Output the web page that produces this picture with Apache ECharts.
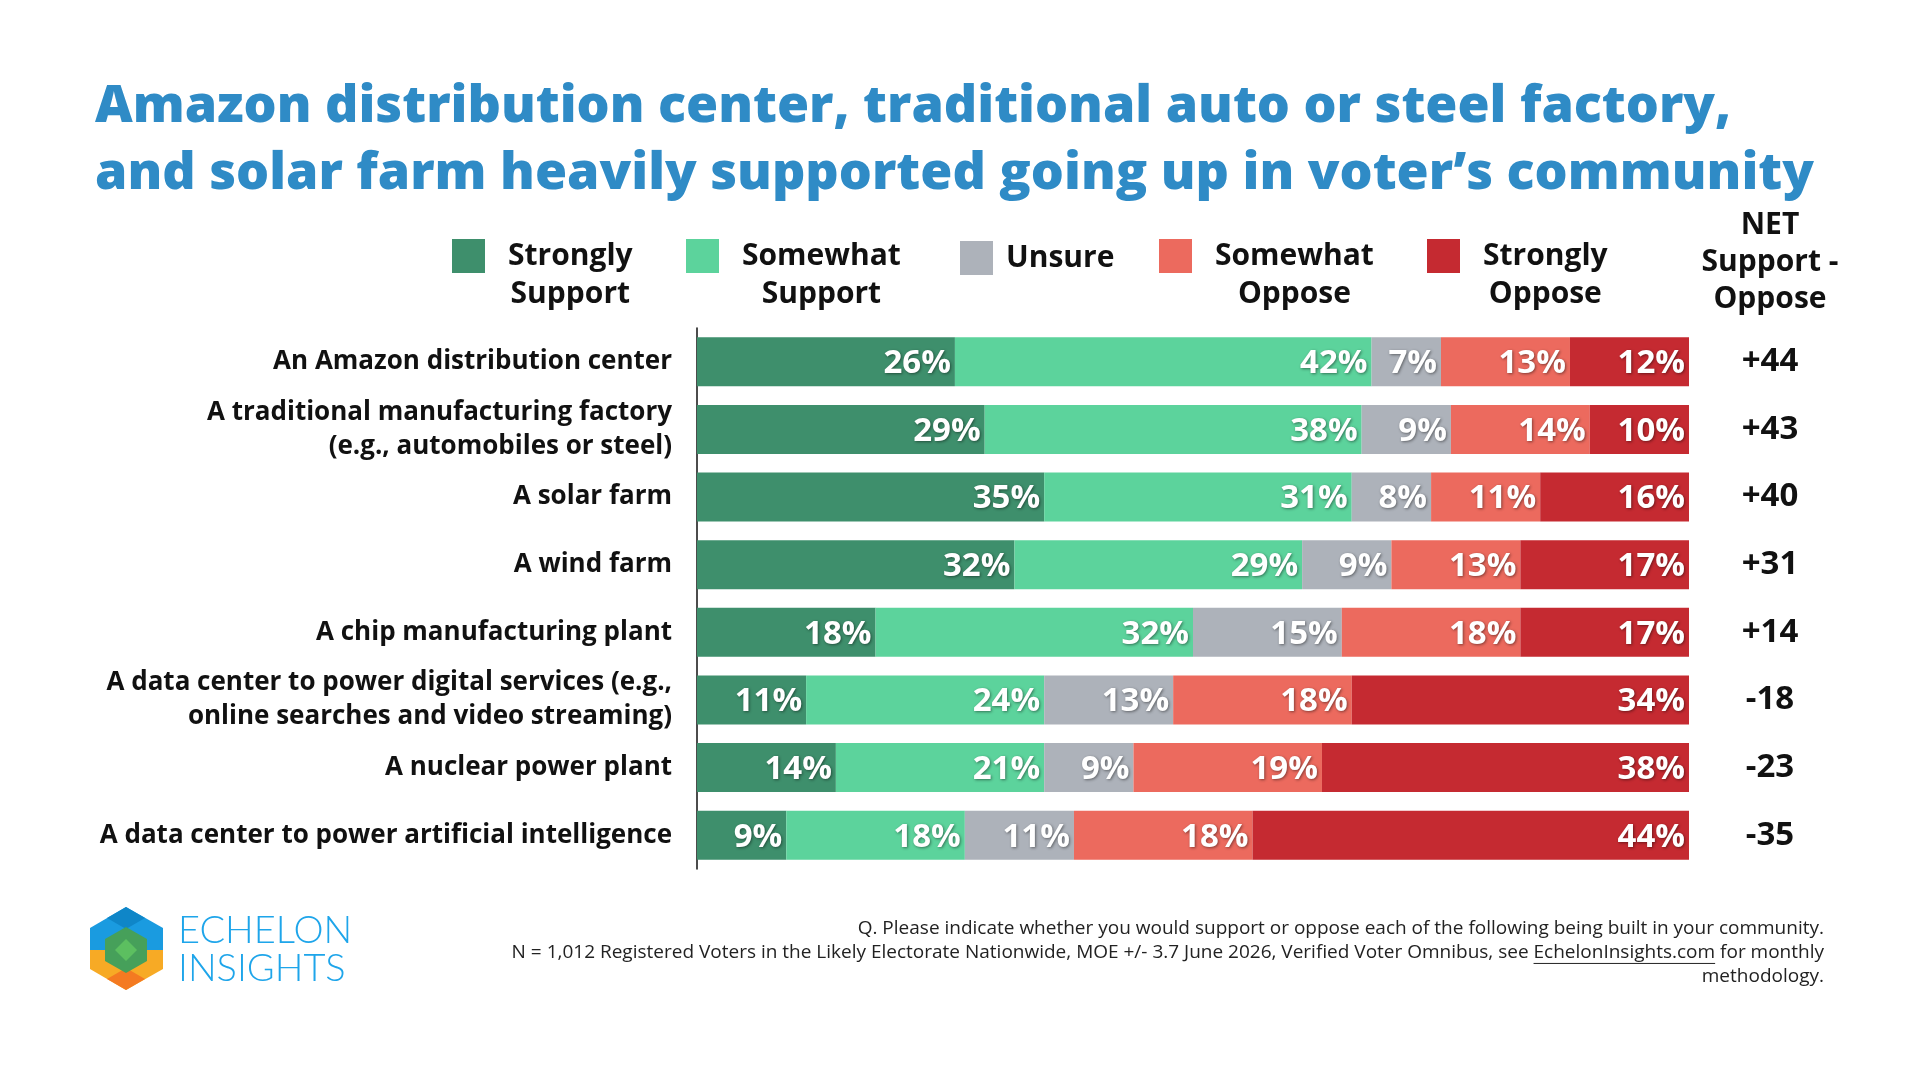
<!DOCTYPE html>
<html>
<head>
<meta charset="utf-8">
<title>Community support for new facilities</title>
<script src="https://cdn.jsdelivr.net/npm/echarts@6/dist/echarts.min.js"></script>
<style>
  html, body { margin: 0; padding: 0; background: #fff; }
  #chart { width: 1920px; height: 1080px; }
</style>
</head>
<body>
<div id="chart"></div>
<script>
// data
var categories = [
  'An Amazon distribution center',
  'A traditional manufacturing factory\n(e.g., automobiles or steel)',
  'A solar farm',
  'A wind farm',
  'A chip manufacturing plant',
  'A data center to power digital services (e.g.,\nonline searches and video streaming)',
  'A nuclear power plant',
  'A data center to power artificial intelligence'
];
var strongSupport = [26, 29, 35, 32, 18, 11, 14, 9];
var someSupport = [42, 38, 31, 29, 32, 24, 21, 18];
var unsure = [7, 9, 8, 9, 15, 13, 9, 11];
var someOppose = [13, 14, 11, 13, 18, 18, 19, 18];
var strongOppose = [12, 10, 16, 17, 17, 34, 38, 44];
var netLabels = ['+44', '+43', '+40', '+31', '+14', '-18', '-23', '-35'];

var seriesNames = ['Strongly\nSupport', 'Somewhat\nSupport', 'Unsure', 'Somewhat\nOppose', 'Strongly\nOppose'];
var seriesData = [strongSupport, someSupport, unsure, someOppose, strongOppose];
var colors = ['#3e8f6c', '#5cd39c', '#adb2ba', '#ec6a5e', '#c52a31'];
var legendLeft = [452, 686, 960, 1159, 1427];

var font = '"Open Sans", Lato, sans-serif';

var noteLine1 = 'Q. Please indicate whether you would support or oppose each of the following being built in your community.';
var noteLine2a = 'N = 1,012 Registered Voters in the Likely Electorate Nationwide, MOE +/- 3.7 June 2026, Verified Voter Omnibus, see ';
var noteLink = 'EchelonInsights.com';
var noteLine2b = ' for monthly';
var noteLine3 = 'methodology.';
var noteSize = 19;
var noteRight = 1824;
var noteTop = 917;
var noteLineHeight = 24;

var myChart = echarts.init(document.getElementById('chart'));

var series = seriesData.map(function (vals, i) {
  return {
    name: seriesNames[i],
    type: 'bar',
    stack: 'all',
    barWidth: 49,
    data: vals,
    itemStyle: { color: colors[i] },
    label: {
      show: true,
      position: 'insideRight',
      distance: 4,
      offset: [0, 2],
      formatter: '{c}%',
      color: '#fff',
      fontFamily: font,
      fontWeight: 'bold',
      fontSize: 33,
      textShadowColor: 'rgba(0,0,0,0.45)',
      textShadowBlur: 3,
      textShadowOffsetX: 1,
      textShadowOffsetY: 1
    }
  };
});

// one legend per item so each sits where the slide has it
// a blank first line keeps the first text line level with the square
var legends = seriesNames.map(function (name, i) {
  var lines = name.split('\n');
  var twoLines = lines.length > 1;
  if (twoLines) lines.unshift(' ');
  return {
    data: [name],
    left: legendLeft[i],
    top: twoLines ? 203 : 241,
    padding: 0,
    itemWidth: 33,
    itemHeight: 34,
    itemGap: 0,
    icon: 'rect',
    selectedMode: false,
    formatter: function () {
      return lines.map(function (s) { return '{a|' + s + '}'; }).join('\n');
    },
    textStyle: {
      rich: {
        a: {
          fontFamily: font,
          fontWeight: 'bold',
          fontSize: 30,
          lineHeight: 38,
          color: '#111',
          align: 'center',
          padding: [0, 0, 0, twoLines ? 18 : 8]
        }
      }
    }
  };
});

// underline for the web address in the note
var ctx = document.createElement('canvas').getContext('2d');
ctx.font = noteSize + 'px "Open Sans"';
var tailW = ctx.measureText(noteLine2b).width;
var linkW = ctx.measureText(noteLink).width;
var linkY = noteTop + noteLineHeight * 1.5 + noteSize * 0.55;

var option = {
  backgroundColor: '#fff',
  animation: false,
  title: [
    {
      text: 'Amazon distribution center, traditional auto or steel factory,\nand solar farm heavily supported going up in voter\u2019s community',
      left: 95,
      top: 74,
      padding: 0,
      textStyle: {
        fontFamily: font,
        fontWeight: 800,
        fontSize: 52,
        lineHeight: 67,
        color: '#2f8bc6'
      }
    },
    {
      text: 'NET\nSupport -\nOppose',
      left: 1770,
      top: 207,
      padding: 0,
      textAlign: 'center',
      textStyle: {
        fontFamily: font,
        fontWeight: 'bold',
        fontSize: 30,
        lineHeight: 37,
        color: '#111'
      }
    },
    {
      text: noteLine1 + '\n' + noteLine2a + noteLink + noteLine2b + '\n' + noteLine3,
      left: noteRight,
      top: noteTop,
      padding: 0,
      textAlign: 'right',
      textStyle: {
        fontFamily: font,
        fontWeight: 'normal',
        fontSize: noteSize,
        lineHeight: noteLineHeight,
        color: '#222'
      }
    }
  ],
  legend: legends,
  grid: {
    left: 697,
    right: 231,
    top: 328,
    bottom: 211,
    containLabel: false
  },
  xAxis: {
    type: 'value',
    min: 0,
    max: 100,
    show: false
  },
  yAxis: [
    {
      type: 'category',
      data: categories,
      inverse: true,
      axisLine: { show: true, lineStyle: { color: '#111', width: 1.5 } },
      axisTick: { show: false },
      axisLabel: {
        margin: 25,
        padding: [4, 0, 0, 0],
        fontFamily: font,
        fontWeight: 'bold',
        fontSize: 26,
        lineHeight: 34,
        color: '#111',
        align: 'right'
      }
    },
    {
      type: 'category',
      data: netLabels,
      inverse: true,
      position: 'right',
      axisLine: { show: false },
      axisTick: { show: false },
      axisLabel: {
        margin: 81,
        padding: [4, 0, 0, 0],
        align: 'center',
        fontFamily: font,
        fontWeight: 'bold',
        fontSize: 33,
        color: '#111'
      }
    }
  ],
  series: series,
  graphic: [
    // Echelon Insights logo
    { type: 'polygon', shape: { points: [[126, 907], [163, 928], [163, 950], [90, 950], [90, 928]] }, style: { fill: '#1a9be0' } },
    { type: 'polygon', shape: { points: [[126, 907], [145, 918], [126, 929], [107, 918]] }, style: { fill: '#0f86c8' } },
    { type: 'polygon', shape: { points: [[90, 950], [163, 950], [163, 969], [126, 990], [90, 969]] }, style: { fill: '#f7aa25' } },
    { type: 'polygon', shape: { points: [[126, 968], [145, 979], [126, 990], [107, 979]] }, style: { fill: '#f47a21' } },
    { type: 'polygon', shape: { points: [[126, 927], [147, 939], [147, 961], [126, 973], [105, 961], [105, 939]] }, style: { fill: '#46a05a' } },
    { type: 'polygon', shape: { points: [[126, 939], [137, 950], [126, 961], [115, 950]] }, style: { fill: '#5cbf60' } },
    {
      type: 'text', left: 178, top: 912,
      style: { text: 'ECHELON\nINSIGHTS', fill: '#1ea5ea', font: '300 38px Lato, sans-serif', lineHeight: 38 }
    },
    {
      type: 'line',
      shape: { x1: noteRight - tailW - linkW, y1: linkY, x2: noteRight - tailW, y2: linkY },
      style: { stroke: '#222', lineWidth: 1 }
    }
  ]
};

myChart.setOption(option);
</script>
</body>
</html>
